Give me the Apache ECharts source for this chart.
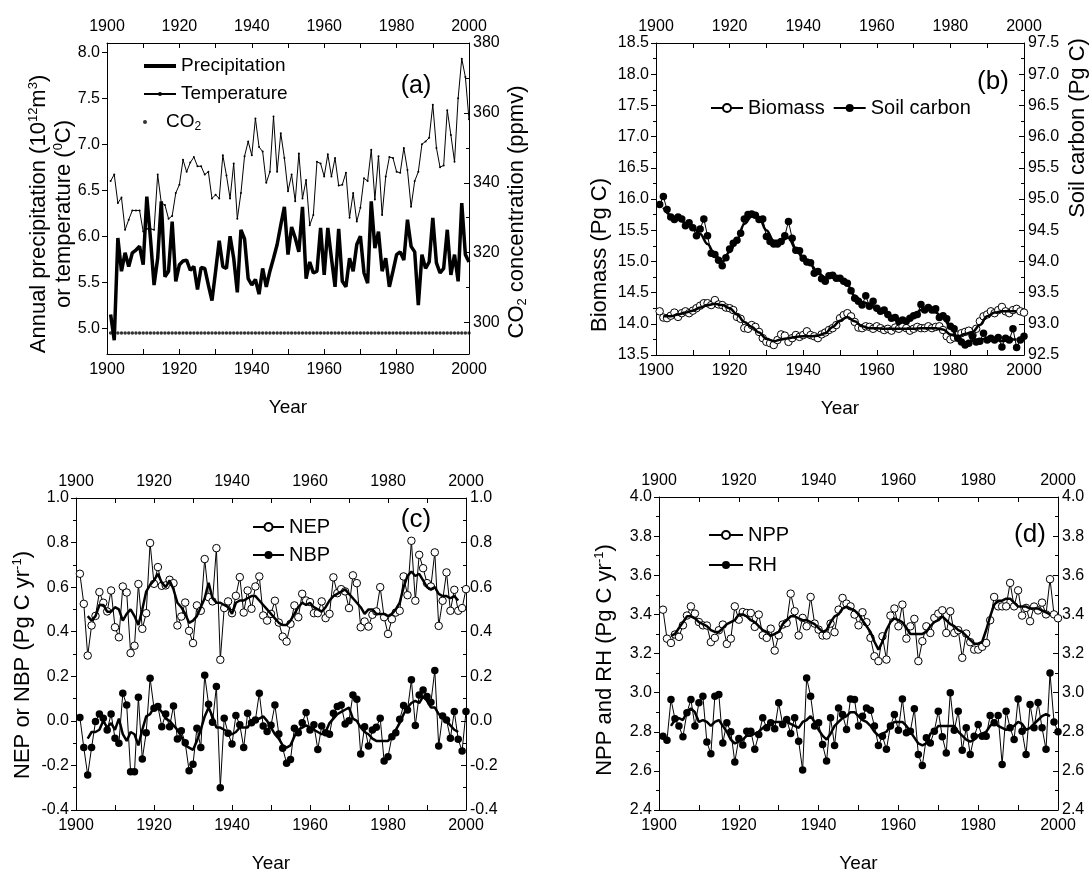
<!DOCTYPE html>
<html>
<head>
<meta charset="utf-8">
<script src="https://cdn.jsdelivr.net/npm/echarts@6/dist/echarts.min.js"></script>
<style>
  html, body { margin: 0; padding: 0; background: #fff; }
  #chart { width: 1091px; height: 875px; }
</style>
</head>
<body>
<div id="chart"></div>
<script>
// 年度数据：1901-2000
const FIRST_YEAR = 1901

// (a) 降水、温度、CO2
const precipitation = [
  5.15, 4.87, 5.98, 5.62, 5.82, 5.67, 5.82, 5.85, 5.89, 5.69,
  6.43, 5.98, 5.47, 5.76, 6.38, 5.56, 5.62, 6.16, 5.51, 5.69,
  5.73, 5.74, 5.63, 5.67, 5.42, 5.66, 5.65, 5.47, 5.30, 5.62,
  5.95, 5.67, 5.65, 6.00, 5.76, 5.39, 6.07, 5.97, 5.54, 5.47,
  5.53, 5.37, 5.65, 5.45, 5.62, 5.76, 5.91, 6.12, 6.32, 5.80,
  6.10, 5.98, 5.83, 6.32, 5.54, 5.72, 5.60, 5.62, 6.09, 5.58,
  6.09, 5.76, 5.45, 6.08, 5.51, 5.45, 5.76, 5.62, 5.91, 6.00,
  5.60, 5.49, 6.38, 5.87, 6.05, 5.62, 5.76, 5.45, 5.62, 5.80,
  5.83, 5.74, 6.18, 5.89, 5.83, 5.25, 5.80, 5.65, 5.72, 6.20,
  5.71, 5.60, 5.65, 6.07, 5.58, 5.80, 5.51, 6.36, 5.80, 5.72
]
const temperature = [
  6.60, 6.67, 6.36, 6.42, 6.07, 6.18, 6.28, 6.28, 6.28, 6.05,
  6.08, 6.08, 6.07, 6.67, 6.36, 6.34, 6.19, 6.22, 6.47, 6.56,
  6.83, 6.70, 6.80, 6.86, 6.76, 6.76, 6.67, 6.70, 6.41, 6.45,
  6.41, 6.88, 6.66, 6.41, 6.79, 6.19, 6.47, 6.87, 7.03, 6.88,
  7.28, 6.97, 6.92, 6.58, 6.70, 7.30, 6.70, 7.12, 6.85, 6.49,
  6.67, 6.38, 6.90, 6.41, 6.61, 6.12, 6.23, 6.81, 6.79, 6.65,
  6.89, 6.65, 6.85, 6.55, 6.56, 6.69, 6.20, 6.47, 6.16, 6.31,
  6.63, 6.60, 6.94, 6.40, 6.87, 6.23, 6.65, 6.86, 6.85, 6.70,
  6.69, 6.96, 6.72, 6.32, 6.60, 6.70, 7.00, 7.03, 7.07, 7.43,
  6.96, 6.75, 6.77, 7.37, 7.10, 6.81, 7.50, 7.93, 7.73, 7.27
]
const co2 = [
  297, 297, 297, 297, 297, 297, 297, 297, 297, 297,
  297, 297, 297, 297, 297, 297, 297, 297, 297, 297,
  297, 297, 297, 297, 297, 297, 297, 297, 297, 297,
  297, 297, 297, 297, 297, 297, 297, 297, 297, 297,
  297, 297, 297, 297, 297, 297, 297, 297, 297, 297,
  297, 297, 297, 297, 297, 297, 297, 297, 297, 297,
  297, 297, 297, 297, 297, 297, 297, 297, 297, 297,
  297, 297, 297, 297, 297, 297, 297, 297, 297, 297,
  297, 297, 297, 297, 297, 297, 297, 297, 297, 297,
  297, 297, 297, 297, 297, 297, 297, 297, 297, 297
]

// (b) 生物量、土壤碳
const biomass = [
  14.20, 14.10, 14.09, 14.13, 14.18, 14.11, 14.17, 14.20, 14.17, 14.21,
  14.25, 14.29, 14.33, 14.33, 14.30, 14.38, 14.31, 14.30, 14.26, 14.25,
  14.22, 14.11, 14.08, 13.93, 13.92, 13.98, 13.95, 13.87, 13.77, 13.71,
  13.69, 13.66, 13.74, 13.83, 13.81, 13.71, 13.77, 13.82, 13.79, 13.82,
  13.88, 13.82, 13.80, 13.77, 13.83, 13.86, 13.90, 13.93, 13.98, 14.09,
  14.14, 14.17, 14.12, 14.03, 13.94, 13.93, 13.96, 13.95, 13.92, 13.96,
  13.93, 13.90, 13.92, 13.89, 13.94, 13.92, 13.96, 13.93, 13.89, 13.92,
  13.95, 13.93, 13.93, 13.96, 13.93, 13.95, 13.96, 13.90, 13.80, 13.75,
  13.78, 13.82, 13.85, 13.87, 13.89, 13.82, 13.92, 14.04, 14.12, 14.15,
  14.20, 14.17, 14.22, 14.27, 14.20, 14.17, 14.22, 14.24, 14.20, 14.18
]
const soilCarbon = [
  94.91, 95.04, 94.83, 94.71, 94.67, 94.71, 94.68, 94.57, 94.62, 94.54,
  94.41, 94.52, 94.68, 94.41, 94.13, 94.11, 94.02, 93.93, 94.06, 94.20,
  94.29, 94.34, 94.45, 94.68, 94.75, 94.76, 94.74, 94.67, 94.68, 94.40,
  94.32, 94.28, 94.28, 94.32, 94.41, 94.64, 94.37, 94.18, 94.17, 94.05,
  93.99, 93.98, 93.81, 93.84, 93.72, 93.68, 93.77, 93.78, 93.73, 93.73,
  93.68, 93.65, 93.53, 93.41, 93.36, 93.30, 93.45, 93.28, 93.36, 93.25,
  93.20, 93.22, 93.15, 93.09, 93.10, 93.04, 93.06, 93.04, 93.09, 93.13,
  93.15, 93.31, 93.22, 93.26, 93.22, 93.24, 93.10, 93.13, 93.08, 92.96,
  92.92, 92.77, 92.71, 92.66, 92.69, 92.80, 92.71, 92.72, 92.85, 92.74,
  92.77, 92.74, 92.78, 92.63, 92.77, 92.74, 92.92, 92.62, 92.74, 92.80
]
// 平滑曲线：1902 起每两年一个点
const SMOOTH_B_FIRST = 1902
const SMOOTH_B_STEP = 2
const biomassSmooth = [
  14.12, 14.12, 14.15, 14.18, 14.21, 14.26, 14.30, 14.32, 14.30, 14.25,
  14.15, 14.03, 13.95, 13.86, 13.76, 13.72, 13.75, 13.77, 13.79, 13.80,
  13.80, 13.81, 13.85, 13.95, 14.05, 14.11, 14.04, 13.96, 13.93, 13.93,
  13.92, 13.92, 13.92, 13.92, 13.92, 13.93, 13.93, 13.93, 13.91, 13.83,
  13.79, 13.84, 13.87, 13.98, 14.12, 14.18, 14.20, 14.20, 14.20
]
const soilSmooth = [
  94.86, 94.74, 94.68, 94.62, 94.54, 94.44, 94.28, 94.10, 94.00, 94.15,
  94.35, 94.60, 94.72, 94.70, 94.50, 94.33, 94.33, 94.38, 94.20, 94.05,
  93.95, 93.82, 93.74, 93.75, 93.72, 93.62, 93.45, 93.35, 93.32, 93.25,
  93.18, 93.10, 93.05, 93.06, 93.12, 93.22, 93.24, 93.18, 93.10, 92.95,
  92.78, 92.70, 92.73, 92.75, 92.76, 92.75, 92.72, 92.75, 92.75
]

// (c) NEP、NBP
const nep = [
  0.66, 0.525, 0.293, 0.428, 0.471, 0.578, 0.53, 0.491, 0.585, 0.42,
  0.375, 0.603, 0.576, 0.304, 0.337, 0.614, 0.413, 0.483, 0.798, 0.615,
  0.69, 0.606, 0.608, 0.633, 0.618, 0.428, 0.468, 0.531, 0.404, 0.349,
  0.518, 0.494, 0.726, 0.555, 0.536, 0.775, 0.274, 0.506, 0.536, 0.483,
  0.561, 0.645, 0.486, 0.585, 0.503, 0.603, 0.648, 0.473, 0.45, 0.48,
  0.539, 0.441, 0.378, 0.356, 0.435, 0.518, 0.465, 0.57, 0.54, 0.533,
  0.483, 0.483, 0.536, 0.461, 0.48, 0.644, 0.573, 0.591, 0.581, 0.506,
  0.653, 0.618, 0.42, 0.446, 0.423, 0.476, 0.491, 0.6, 0.465, 0.39,
  0.456, 0.486, 0.494, 0.648, 0.564, 0.808, 0.539, 0.745, 0.685, 0.618,
  0.603, 0.756, 0.426, 0.539, 0.666, 0.494, 0.588, 0.494, 0.506, 0.591
]
const nbp = [
  0.015, -0.12, -0.243, -0.12, -0.003, 0.031, 0.012, -0.041, 0.031, -0.078,
  -0.101, 0.124, 0.071, -0.228, -0.228, 0.106, -0.171, -0.053, 0.191, 0.057,
  0.064, -0.026, 0.031, -0.026, 0.067, -0.081, -0.044, -0.098, -0.224, -0.195,
  -0.033, -0.119, 0.205, 0.074, -0.006, 0.154, -0.3, 0.012, -0.056, -0.104,
  0.024, -0.018, -0.119, 0.034, -0.008, 0.004, 0.124, -0.023, -0.048, -0.02,
  0.071, -0.059, -0.123, -0.19, -0.173, -0.033, -0.053, -0.008, 0.037, -0.041,
  -0.018, -0.128, -0.023, -0.053, -0.06, 0.034, 0.064, 0.071, -0.014, 0.001,
  0.116, 0.097, -0.149, -0.026, -0.113, -0.041, -0.029, 0.012, -0.18, -0.161,
  -0.071, -0.053, 0.007, 0.069, 0.049, 0.184, -0.021, 0.116, 0.139, 0.109,
  0.083, 0.226, -0.113, 0.022, 0.004, -0.078, 0.042, -0.083, -0.135, 0.042
]
// 滑动平均曲线：1903-1998
const SMOOTH_CD_FIRST = 1903
const nepSmooth = [
  0.47, 0.45, 0.47, 0.52, 0.52, 0.49, 0.49, 0.51,
  0.50, 0.45, 0.48, 0.50, 0.47, 0.43, 0.50, 0.58, 0.61, 0.63,
  0.66, 0.62, 0.60, 0.63, 0.59, 0.53, 0.51, 0.48, 0.44, 0.45,
  0.47, 0.51, 0.55, 0.62, 0.55, 0.53, 0.53, 0.52, 0.51, 0.48,
  0.53, 0.54, 0.54, 0.55, 0.56, 0.56, 0.54, 0.52, 0.50, 0.48,
  0.46, 0.44, 0.43, 0.43, 0.45, 0.48, 0.51, 0.53, 0.52, 0.53,
  0.51, 0.50, 0.49, 0.51, 0.54, 0.56, 0.57, 0.58, 0.59, 0.57,
  0.55, 0.53, 0.51, 0.48, 0.50, 0.50, 0.48, 0.48, 0.48, 0.47,
  0.48, 0.50, 0.53, 0.60, 0.65, 0.67, 0.65, 0.66, 0.63, 0.60,
  0.59, 0.60, 0.57, 0.56, 0.56, 0.55, 0.56, 0.54
]
const nbpSmooth = [
  -0.08, -0.05, -0.05, -0.04, 0.00, -0.03, -0.01, -0.04,
  0.01, -0.06, -0.09, -0.05, -0.06, -0.11, -0.04, 0.02, 0.03, 0.06,
  0.06, 0.04, 0.01, 0.00, -0.02, -0.04, -0.07, -0.11, -0.12, -0.13,
  -0.09, -0.04, 0.02, 0.06, 0.02, -0.03, -0.03, -0.04, -0.05, -0.06,
  -0.05, -0.03, -0.03, -0.03, 0.00, 0.01, 0.01, 0.02, 0.00, -0.03,
  -0.06, -0.08, -0.11, -0.12, -0.11, -0.07, -0.04, -0.03, -0.02, -0.03,
  -0.04, -0.05, -0.06, -0.05, -0.01, 0.01, 0.03, 0.04, 0.05, 0.06,
  0.01, 0.00, -0.03, -0.05, -0.06, -0.08, -0.09, -0.09, -0.09, -0.09,
  -0.07, -0.04, -0.01, 0.03, 0.06, 0.08, 0.09, 0.08, 0.11, 0.09,
  0.06, 0.06, 0.03, 0.02, 0.00, -0.02, -0.04, -0.05
]

// (d) NPP、RH
const npp = [
  3.424, 3.276, 3.254, 3.297, 3.285, 3.344, 3.394, 3.441, 3.404, 3.361,
  3.344, 3.343, 3.258, 3.28, 3.319, 3.348, 3.249, 3.276, 3.441, 3.373,
  3.412, 3.407, 3.407, 3.336, 3.399, 3.293, 3.28, 3.327, 3.215, 3.293,
  3.348, 3.356, 3.506, 3.416, 3.292, 3.382, 3.339, 3.489, 3.353, 3.322,
  3.292, 3.292, 3.353, 3.309, 3.424, 3.484, 3.455, 3.441, 3.399, 3.344,
  3.411, 3.36, 3.28, 3.186, 3.161, 3.288, 3.169, 3.394, 3.43, 3.339,
  3.45, 3.276, 3.339, 3.377, 3.161, 3.263, 3.339, 3.305, 3.382, 3.404,
  3.421, 3.305, 3.416, 3.305, 3.319, 3.178, 3.302, 3.258, 3.22, 3.22,
  3.234, 3.254, 3.37, 3.489, 3.441, 3.441, 3.441, 3.561, 3.441, 3.523,
  3.394, 3.433, 3.365, 3.44, 3.42, 3.46, 3.40, 3.58, 3.40, 3.38
]
const rh = [
  2.777, 2.757, 2.965, 2.866, 2.829, 2.774, 2.897, 2.965, 2.829, 2.948,
  2.982, 2.747, 2.687, 2.982, 2.99, 2.743, 2.846, 2.8, 2.646, 2.766,
  2.732, 2.803, 2.803, 2.71, 2.786, 2.871, 2.82, 2.846, 2.815, 2.948,
  2.837, 2.863, 2.791, 2.871, 2.752, 2.604, 3.075, 2.982, 2.829, 2.846,
  2.735, 2.65, 2.871, 2.73, 2.922, 2.888, 2.812, 2.968, 2.965, 2.829,
  2.879, 2.922, 2.91, 2.829, 2.73, 2.777, 2.71, 2.829, 2.888, 2.808,
  2.968, 2.795, 2.803, 2.917, 2.684, 2.628, 2.769, 2.743, 2.803, 2.905,
  2.774, 2.692, 2.999, 2.808, 2.905, 2.706, 2.82, 2.684, 2.777, 2.837,
  2.777, 2.777, 2.883, 2.846, 2.883, 2.633, 2.905, 2.82, 2.76, 2.968,
  2.803, 2.684, 2.939, 2.82, 2.95, 2.82, 2.71, 3.10, 2.85, 2.80
]
const nppSmooth = [
  3.29, 3.30, 3.33, 3.36, 3.39, 3.39, 3.38, 3.36,
  3.35, 3.34, 3.32, 3.31, 3.31, 3.33, 3.35, 3.36, 3.37, 3.40,
  3.40, 3.39, 3.37, 3.36, 3.34, 3.32, 3.31, 3.29, 3.30, 3.31,
  3.35, 3.37, 3.39, 3.39, 3.38, 3.37, 3.37, 3.36, 3.35, 3.33,
  3.31, 3.32, 3.36, 3.39, 3.40, 3.43, 3.44, 3.43, 3.42, 3.40,
  3.37, 3.34, 3.31, 3.26, 3.22, 3.26, 3.32, 3.36, 3.38, 3.37,
  3.36, 3.33, 3.30, 3.30, 3.30, 3.30, 3.31, 3.34, 3.36, 3.37,
  3.39, 3.37, 3.35, 3.34, 3.32, 3.31, 3.29, 3.27, 3.25, 3.25,
  3.26, 3.32, 3.39, 3.45, 3.47, 3.47, 3.48, 3.48, 3.46, 3.44,
  3.44, 3.44, 3.43, 3.43, 3.43, 3.42, 3.41, 3.40
]
const rhSmooth = [
  2.83, 2.86, 2.87, 2.86, 2.90, 2.92, 2.90, 2.85,
  2.86, 2.85, 2.83, 2.85, 2.86, 2.83, 2.80, 2.76, 2.74, 2.75,
  2.76, 2.78, 2.78, 2.79, 2.80, 2.82, 2.83, 2.85, 2.85, 2.85,
  2.85, 2.85, 2.84, 2.83, 2.82, 2.85, 2.86, 2.88, 2.85, 2.81,
  2.78, 2.76, 2.79, 2.83, 2.85, 2.87, 2.88, 2.90, 2.90, 2.88,
  2.86, 2.85, 2.83, 2.80, 2.78, 2.79, 2.80, 2.83, 2.85, 2.85,
  2.85, 2.83, 2.80, 2.77, 2.74, 2.73, 2.74, 2.79, 2.80, 2.83,
  2.83, 2.83, 2.83, 2.83, 2.80, 2.78, 2.76, 2.75, 2.76, 2.78,
  2.79, 2.80, 2.83, 2.85, 2.83, 2.82, 2.81, 2.82, 2.83, 2.85,
  2.84, 2.81, 2.82, 2.84, 2.86, 2.88, 2.89, 2.88
]

const FONT = '"Liberation Sans", Arial, sans-serif'

// 把年份和数值配成 [x, y]
const withYears = (first, vals, step = 1) => vals.map((v, i) => [first + i * step, v])

const myChart = echarts.init(document.getElementById('chart'), null, { renderer: 'canvas' })

// 四个子图的位置
const grids = [
  { left: 107, top: 43, width: 362, height: 311 },
  { left: 656, top: 43, width: 368, height: 312 },
  { left: 76, top: 498, width: 390, height: 312 },
  { left: 659, top: 497, width: 399, height: 313 }
]

const black = { color: '#000' }

function xAxes(gridIndex) {
  const base = {
    gridIndex,
    type: 'value',
    min: 1900,
    max: 2000,
    interval: 20,
    axisLine: { onZero: false, lineStyle: { color: '#000', width: 1 } },
    axisTick: { inside: true, length: 5, lineStyle: black },
    minorTick: { show: true, splitNumber: 2, length: 5, lineStyle: black },
    splitLine: { show: false },
    axisLabel: { color: '#000', fontSize: 16, fontFamily: FONT, margin: 8, formatter: (v) => String(v) }
  }
  return [
    Object.assign({}, base, {
      position: 'bottom',
      name: 'Year',
      nameLocation: 'middle',
      nameGap: 44,
      nameTextStyle: { color: '#000', fontSize: 19, fontFamily: FONT }
    }),
    Object.assign({}, base, { position: 'top' })
  ]
}

function yAxis(gridIndex, position, opts) {
  const right = position === 'right'
  return Object.assign({
    gridIndex,
    type: 'value',
    position,
    axisLine: { show: true, onZero: false, lineStyle: { color: '#000', width: 1 } },
    axisTick: { show: true, inside: right, length: 5, lineStyle: black },
    minorTick: { show: opts.minor !== false, splitNumber: 2, length: 3, lineStyle: black },
    splitLine: { show: false },
    axisLabel: {
      color: '#000',
      fontSize: 16,
      fontFamily: FONT,
      margin: right ? 4 : 7,
      showMinLabel: opts.showMin !== false,
      showMaxLabel: opts.showMax !== false,
      formatter: (v) => v.toFixed(opts.dec)
    }
  }, {
    min: opts.min,
    max: opts.max,
    interval: opts.interval,
    splitNumber: opts.splitNumber
  })
}

const openSeries = (name, data, xi, yi) => ({
  name, type: 'line', xAxisIndex: xi, yAxisIndex: yi, data,
  symbol: 'circle', symbolSize: 7.5, showAllSymbol: true,
  itemStyle: { color: '#fff', borderColor: '#000', borderWidth: 1 },
  lineStyle: { color: '#000', width: 1 }, z: 3
})
const filledSeries = (name, data, xi, yi) => ({
  name, type: 'line', xAxisIndex: xi, yAxisIndex: yi, data,
  symbol: 'circle', symbolSize: 7.5, showAllSymbol: true,
  itemStyle: { color: '#000' },
  lineStyle: { color: '#000', width: 1 }, z: 3
})
const smoothSeries = (name, data, xi, yi, smooth) => ({
  name, type: 'line', xAxisIndex: xi, yAxisIndex: yi, data,
  symbol: 'none', smooth: smooth || false, smoothMonotone: 'x',
  itemStyle: { color: '#000' },
  lineStyle: { color: '#000', width: 2.5 }, z: 4
})

const legendText = { color: '#000', fontSize: 20, fontFamily: FONT, lineHeight: 20 }

// 竖排的轴标题
const vTitle = (x, y, text, size) => ({
  type: 'text', x, y, rotation: Math.PI / 2, silent: true,
  style: {
    text, fill: '#000', fontSize: size || 22, fontFamily: FONT,
    align: 'center', verticalAlign: 'middle', textAlign: 'center', textVerticalAlign: 'middle',
    lineHeight: 24,
    rich: {
      sup: { fontSize: 13, fontFamily: FONT, fill: '#000', lineHeight: 13, verticalAlign: 'top' },
      sub: { fontSize: 13, fontFamily: FONT, fill: '#000', lineHeight: 13, verticalAlign: 'bottom' }
    }
  }
})
const panelLabel = (x, y, text, size) => ({
  type: 'text', x, y, silent: true,
  style: {
    text, fill: '#000', fontSize: size, fontFamily: FONT,
    align: 'center', verticalAlign: 'middle', textAlign: 'center', textVerticalAlign: 'middle'
  }
})

const option = {
  backgroundColor: '#fff',
  animation: false,
  grid: grids,
  xAxis: [].concat(xAxes(0), xAxes(1), xAxes(2), xAxes(3)),
  yAxis: [
    yAxis(0, 'left', { min: 4.72, max: 8.1, splitNumber: 7, dec: 1, minor: false, showMin: false, showMax: false }),
    yAxis(0, 'right', { min: 291, max: 380, splitNumber: 5, dec: 0, showMin: false }),
    yAxis(1, 'left', { min: 13.5, max: 18.5, interval: 0.5, dec: 1 }),
    yAxis(1, 'right', { min: 92.5, max: 97.5, interval: 0.5, dec: 1 }),
    yAxis(2, 'left', { min: -0.4, max: 1.0, interval: 0.2, dec: 1 }),
    yAxis(2, 'right', { min: -0.4, max: 1.0, interval: 0.2, dec: 1 }),
    yAxis(3, 'left', { min: 2.4, max: 4.0, interval: 0.2, dec: 1 }),
    yAxis(3, 'right', { min: 2.4, max: 4.0, interval: 0.2, dec: 1 })
  ],
  legend: [
    {
      data: [{ name: 'Precipitation', icon: 'path://M0,0H32V4H0Z' }, 'Temperature'],
      left: 138, top: 50, orient: 'vertical',
      itemWidth: 32, itemHeight: 5, itemGap: 6,
      textStyle: { color: '#000', fontSize: 19, fontFamily: FONT, lineHeight: 22 }
    },
    {
      data: ['CO2'], left: 138, top: 106,
      itemWidth: 32, itemHeight: 4,
      formatter: () => 'CO{sub|2}',
      textStyle: {
        color: '#000', fontSize: 19, fontFamily: FONT, lineHeight: 22,
        rich: { sub: { fontSize: 12, fontFamily: FONT, color: '#000', lineHeight: 12, verticalAlign: 'bottom' } }
      }
    },
    {
      data: ['Biomass', 'Soil carbon'], left: 705, top: 93,
      itemWidth: 32, itemHeight: 10, itemGap: 8,
      textStyle: legendText
    },
    {
      data: ['NEP', 'NBP'], left: 247, top: 512, orient: 'vertical',
      itemWidth: 31, itemHeight: 10, itemGap: 8,
      textStyle: legendText
    },
    {
      data: ['NPP', 'RH'], left: 703, top: 520, orient: 'vertical',
      itemWidth: 34, itemHeight: 10, itemGap: 10,
      textStyle: legendText
    }
  ],
  graphic: [
    vTitle(39, 214, 'Annual precipitation (10{sup|12}m{sup|3})'),
    vTitle(64, 214, 'or temperature ({sup|0}C)'),
    vTitle(517, 212, 'CO{sub|2} concentration (ppmv)'),
    vTitle(600, 255, 'Biomass (Pg C)'),
    vTitle(1078, 128, 'Soil carbon (Pg C)'),
    vTitle(23, 665, 'NEP or NBP (Pg C yr{sup|-1})'),
    vTitle(605, 660, 'NPP and RH (Pg C yr{sup|-1})'),
    panelLabel(416, 86, '(a)', 25),
    panelLabel(993, 82, '(b)', 26),
    panelLabel(416, 520, '(c)', 26),
    panelLabel(1030, 535, '(d)', 26)
  ],
  series: [
    {
      name: 'Precipitation', type: 'line', xAxisIndex: 0, yAxisIndex: 0,
      data: withYears(FIRST_YEAR, precipitation),
      symbol: 'none', itemStyle: { color: '#000' },
      lineStyle: { color: '#000', width: 3.5 }, z: 3
    },
    {
      name: 'Temperature', type: 'line', xAxisIndex: 0, yAxisIndex: 0,
      data: withYears(FIRST_YEAR, temperature),
      symbol: 'circle', symbolSize: 2, showAllSymbol: true,
      itemStyle: { color: '#000' },
      lineStyle: { color: '#000', width: 1 }, z: 3
    },
    {
      name: 'CO2', type: 'scatter', xAxisIndex: 0, yAxisIndex: 1,
      data: withYears(FIRST_YEAR, co2),
      symbol: 'circle', symbolSize: 3.5, itemStyle: { color: '#000' }
    },

    openSeries('Biomass', withYears(FIRST_YEAR, biomass), 2, 2),
    smoothSeries('Biomass trend', withYears(SMOOTH_B_FIRST, biomassSmooth, SMOOTH_B_STEP), 2, 2, 0.4),
    filledSeries('Soil carbon', withYears(FIRST_YEAR, soilCarbon), 2, 3),
    smoothSeries('Soil carbon trend', withYears(SMOOTH_B_FIRST, soilSmooth, SMOOTH_B_STEP), 2, 3, 0.4),

    openSeries('NEP', withYears(FIRST_YEAR, nep), 4, 4),
    smoothSeries('NEP trend', withYears(SMOOTH_CD_FIRST, nepSmooth), 4, 4),
    filledSeries('NBP', withYears(FIRST_YEAR, nbp), 4, 4),
    smoothSeries('NBP trend', withYears(SMOOTH_CD_FIRST, nbpSmooth), 4, 4),

    openSeries('NPP', withYears(FIRST_YEAR, npp), 6, 6),
    smoothSeries('NPP trend', withYears(SMOOTH_CD_FIRST, nppSmooth), 6, 6),
    filledSeries('RH', withYears(FIRST_YEAR, rh), 6, 6),
    smoothSeries('RH trend', withYears(SMOOTH_CD_FIRST, rhSmooth), 6, 6)
  ]
}

myChart.setOption(option)

window.addEventListener('resize', () => {
  myChart.resize()
})
</script>
</body>
</html>
